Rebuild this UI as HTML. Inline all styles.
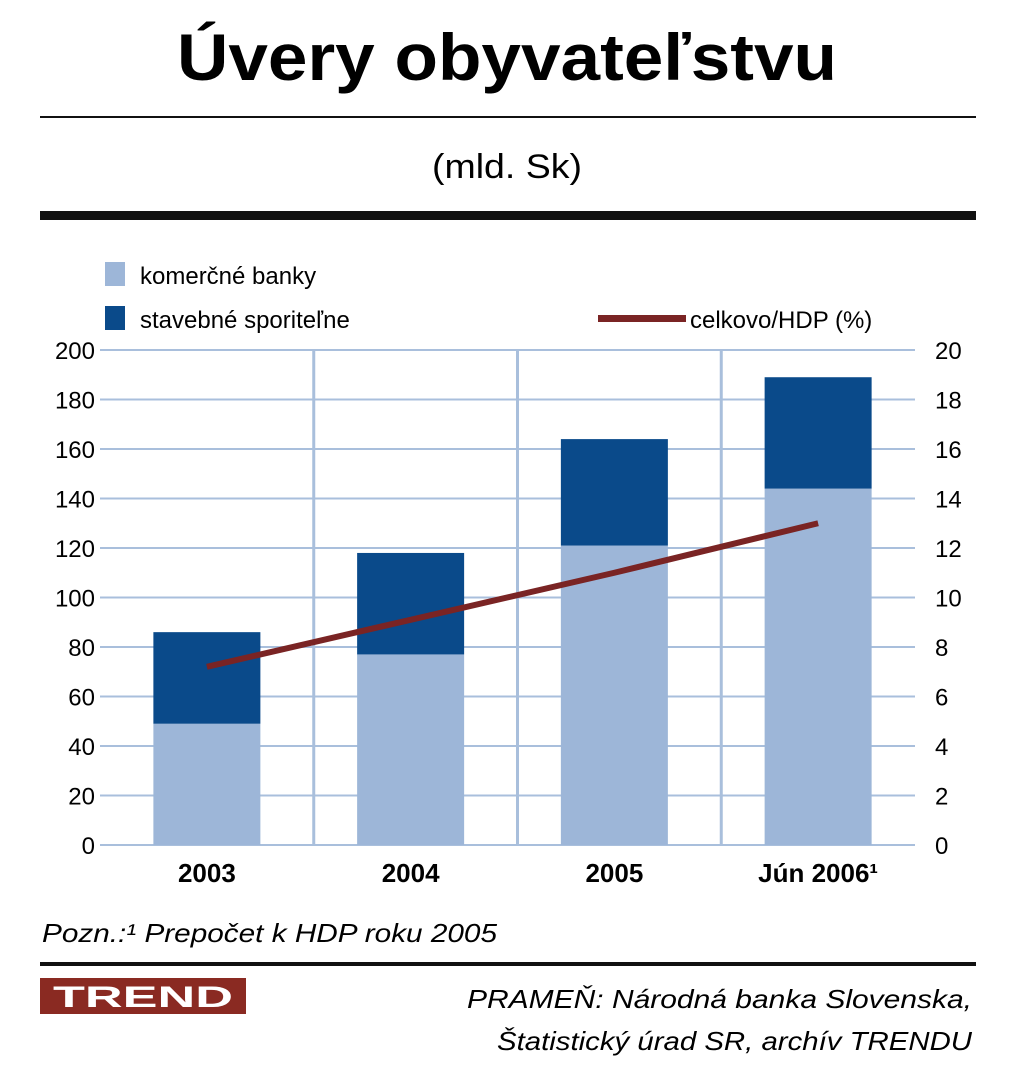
<!DOCTYPE html>
<html><head><meta charset="utf-8"><style>
body{margin:0;background:#fff;width:1024px;height:1074px;overflow:hidden;font-family:"Liberation Sans",sans-serif}
</style></head><body>
<svg width="1024" height="1074" id="s">
<text x="507" y="80" text-anchor="middle" font-size="66" font-weight="bold" textLength="660" lengthAdjust="spacingAndGlyphs">Úvery obyvateľstvu</text>
<rect x="40" y="116" width="936" height="2" fill="#111"/>
<text x="507" y="178" text-anchor="middle" font-size="34" textLength="150" lengthAdjust="spacingAndGlyphs">(mld. Sk)</text>
<rect x="40" y="211" width="936" height="9" fill="#111"/>
<g id="plot"></g>
<g>
<rect x="105" y="262" width="20" height="24" fill="#9db6d8"/>
<text x="140" y="284" font-size="24">komerčné banky</text>
<rect x="105" y="306" width="20" height="24" fill="#0a4a8a"/>
<text x="140" y="328" font-size="24">stavebné sporiteľne</text>
<rect x="598" y="315" width="88" height="7" fill="#7a2424"/>
<text x="690" y="328" font-size="24">celkovo/HDP (%)</text>
</g>
<text x="42" y="942" font-size="26" font-style="italic" textLength="455" lengthAdjust="spacingAndGlyphs">Pozn.:¹ Prepočet k HDP roku 2005</text>
<rect x="40" y="962" width="936" height="4" fill="#111"/>
<rect x="40" y="978" width="206" height="36" fill="#8a2a22"/>
<text x="143" y="1007" text-anchor="middle" font-size="30" font-weight="bold" fill="#fff" textLength="180" lengthAdjust="spacingAndGlyphs">TREND</text>
<text x="972" y="1008" text-anchor="end" font-size="26" font-style="italic" textLength="505" lengthAdjust="spacingAndGlyphs">PRAMEŇ: Národná banka Slovenska,</text>
<text x="972" y="1050" text-anchor="end" font-size="26" font-style="italic" textLength="475" lengthAdjust="spacingAndGlyphs">Štatistický úrad SR, archív TRENDU</text>
</svg>
<script>
const categories=["2003","2004","2005","Jún 2006¹"];
const komercne=[49,77,121,144];
const total=[86,118,164,189];
const hdp=[7.2,9.1,11.0,13.0];
const leftTicks=[0,20,40,60,80,100,120,140,160,180,200];
const rightTicks=[0,2,4,6,8,10,12,14,16,18,20];
const NS="http://www.w3.org/2000/svg";
const g=document.getElementById("plot");
const X0=100,X1=915,Y0=845,Y1=350;
const y=v=>Y0-(v/200)*(Y0-Y1);
const yr=v=>Y0-(v/20)*(Y0-Y1);
const band=(X1-X0)/categories.length;
const cx=i=>X0+band*(i+0.5)+5;
function el(t,a){const e=document.createElementNS(NS,t);for(const k in a)e.setAttribute(k,a[k]);g.appendChild(e);return e;}
leftTicks.forEach(v=>{
 const l=el("line",{x1:X0,x2:X1,y1:y(v),y2:y(v),stroke:"#a9bfdc","stroke-width":2});
 
 
 const t=el("text",{x:95,y:y(v)+9,"text-anchor":"end","font-size":24});
 t.textContent=v;
 
 
});
rightTicks.forEach(v=>{
 const t=el("text",{x:935,y:yr(v)+9,"font-size":24});
 t.textContent=v;
 
 
});
for(let i=1;i<categories.length;i++){
 const x=X0+band*i+10;
 const l=el("line",{x1:x,x2:x,y1:Y1,y2:Y0,stroke:"#a9bfdc","stroke-width":3});
 
 
}
const bw=107;
categories.forEach((c,i)=>{
 const b1=el("rect",{x:cx(i)-bw/2,y:y(komercne[i]),width:bw,height:Y0-y(komercne[i]),fill:"#9db6d8"});
 
 
 const b2=el("rect",{x:cx(i)-bw/2,y:y(total[i]),width:bw,height:y(komercne[i])-y(total[i]),fill:"#0a4a8a"});
 
 
 const t=el("text",{x:cx(i),y:882,"text-anchor":"middle","font-size":26,"font-weight":"bold"});
 t.textContent=c;
 
 
});
const p=el("polyline",{points:hdp.map((v,i)=>cx(i)+","+yr(v)).join(" "),fill:"none",stroke:"#7a2424","stroke-width":6});


</script>
</body></html>
